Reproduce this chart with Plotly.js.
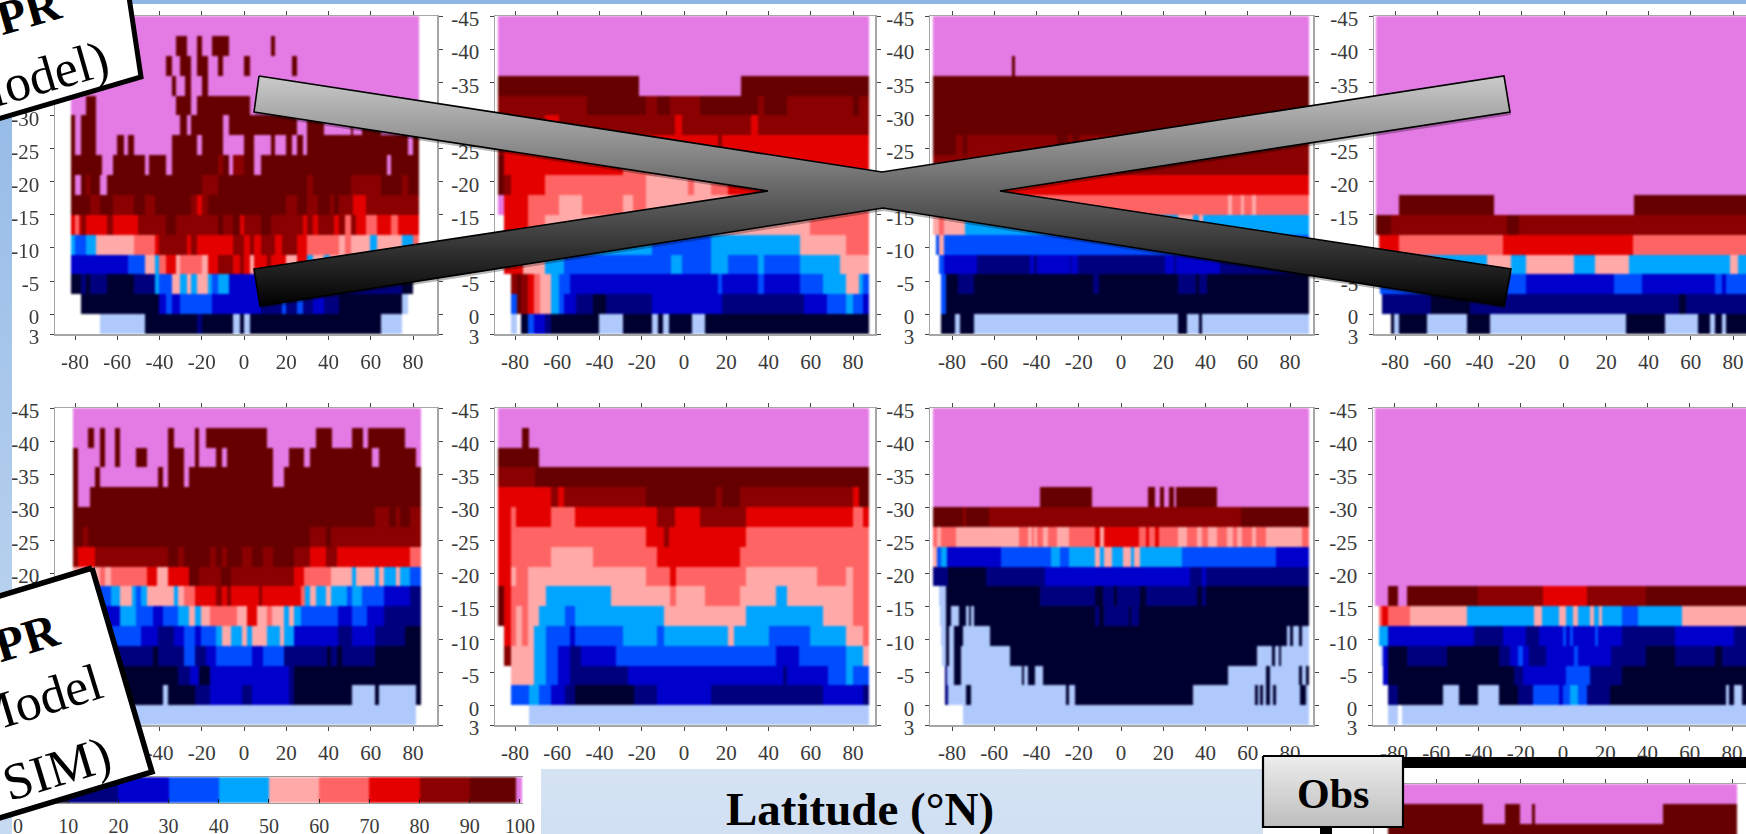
<!DOCTYPE html>
<html><head><meta charset="utf-8">
<script src="https://cdn.plot.ly/plotly-3.0.1.min.js"></script>
<style>
html,body{margin:0;padding:0;background:#fff;overflow:hidden}
#chart{width:1746px;height:834px}
.heatmaplayer{filter:blur(.9px)}
.xtick text,.ytick text{filter:blur(.55px)}
</style></head><body><div id="chart"></div>
<script>
// ---- level codes: 0 = no cloud, 1..10 = deciles (0-10 ... 90-100 %), 11 = 100 %
const Z=0,P=11,N=null;
const levelColors=['#B0C9FC','#000030','#00007F','#0000CC','#004CFF','#00A5FF','#FFA9A9','#FF6464','#E50000','#8B0000','#660000','#E47AE4'];
const lonTicks=[-80,-60,-40,-20,0,20,40,60,80];
const lonLabels=['-80','-60','-40','-20','0','20','40','60','80'];
const hgtTicks=[-45,-40,-35,-30,-25,-20,-15,-10,-5,0,3];
const hgtLabels=['-45','-40','-35','-30','-25','-20','-15','-10','-5','0','3'];
const hgtEdges=[3,0,-3,-6,-9,-12,-15,-18,-21,-24,-27,-30,-33,-36,-39,-42,-45];
const barEdges=[0,10,20,30,40,50,60,70,80,90,99.2,100.4];
const barLevels=[1,2,3,4,5,6,7,8,9,10,11];
const barTicks=[0,10,20,30,40,50,60,70,80,90,100];

// Each row runs top (-45) to bottom (3): [lon, level, lon, level, ..., end lon]
const panel1=[
[-82,P,83],
[-82,P,-32,10,-27,P,-22,10,-20,P,-15,10,-7,P,13,10,15,P,83],
[-82,P,-37,10,-34,P,-30,10,-25,P,-22,10,-17,P,-12,10,-10,P,0,10,3,P,23,10,25,P,83],
[-82,P,-34,10,-32,P,-28,10,-25,P,-20,10,-17,P,83],
[-82,P,-75,10,-70,P,-32,10,-25,P,-22,10,3,P,83],
[-82,10,-80,P,-77,10,-70,P,-30,10,-27,P,-25,10,-10,P,-7,10,25,P,30,10,38,P,51,10,52,P,56,10,65,P,75,10,83],
[-82,10,-80,P,-77,10,-70,P,-60,10,-57,P,-55,10,-52,P,-34,10,-22,P,-20,10,-10,P,0,10,5,P,13,10,15,P,20,10,23,P,25,10,28,P,30,10,78,P,80,10,83],
[-82,10,-67,P,-62,10,-47,P,-45,10,-37,P,-34,10,-12,9,-10,10,-7,P,-5,9,0,10,5,P,8,10,68,P,70,10,83],
[-82,10,-80,P,-77,10,-75,9,-73,10,-68,P,-65,10,-20,9,-12,10,30,9,33,10,51,9,65,10,75,9,78,10,83],
[-82,10,-73,9,-68,10,-62,9,-52,10,-47,9,-42,10,-25,9,-22,8,-20,9,-17,10,20,9,25,10,30,9,35,10,41,9,43,10,45,9,52,8,58,9,83],
[-82,8,-80,7,-78,8,-77,9,-75,8,-65,9,-62,8,-50,9,-37,10,-32,9,-12,10,-10,9,-5,10,-2,8,0,9,8,10,13,9,28,8,30,9,33,8,35,9,43,8,45,9,48,7,51,9,53,8,58,7,63,8,70,7,73,8,83],
[-82,5,-80,4,-75,5,-70,6,-52,7,-42,8,-40,9,-27,8,-25,9,-22,8,-5,9,0,8,3,9,5,8,8,9,15,8,18,9,25,8,30,7,45,6,48,7,51,6,60,5,63,6,75,5,80,7,83],
[-82,3,-55,4,-47,6,-42,5,-40,7,-37,8,-32,6,-30,7,-20,6,-17,8,-12,9,-5,8,-2,9,0,8,3,6,5,8,11,9,13,8,20,6,25,8,30,5,33,6,38,5,41,6,83],
[-82,1,-77,2,-75,1,-73,2,-65,1,-52,2,-42,5,-40,4,-34,6,-30,5,-27,6,-25,5,-22,6,-17,5,-15,4,-12,5,-7,3,30,2,75,1,80],
[-77,1,-40,3,-37,4,-34,3,-30,4,-15,3,8,2,18,4,20,2,25,4,28,2,33,3,38,2,45,1,75,Z,78],
[-68,Z,-47,1,-22,2,-20,1,-5,Z,-2,1,0,Z,3,1,65,Z,75]
];
const panel2=[
[-88,P,88],[-88,P,88],[-88,P,88],
[-88,10,-21,P,27,10,88],
[-88,9,-46,10,-18,9,-12.5,10,-6.5,9,7.5,10,35,9,38,10,49,9,80,10,83,9,88],
[-88,9,-66,8,-59,9,-4,8,-1,9,32,8,35,9,88],
[-88,9,-85,8,16,9,18,8,88],
[-88,10,-85,8,-29,7,30,8,88],
[-88,10,-85,9,-82,8,-66,7,-18,6,2,7,5,6,13,7,21,8,88],
[-88,P,-85,8,-74,7,-59,6,-48,7,-29,6,-24,7,-18,6,60,7,88],
[-88,N,-85,8,-74,7,-66,6,60,7,88],
[-88,N,-85,8,-74,7,-66,6,-55,5,-15,4,13,5,55,6,77,7,88],
[-88,N,-85,8,-76,6,-66,5,-57,4,-6,5,-1,4,13,5,21,4,35,5,38,4,55,5,74,6,88],
[-88,N,-82,9,-79,10,-77,9,-74,8,-71,7,-68,6,-63,5,-59,4,-54,3,16,4,18,3,35,4,38,3,55,4,66,5,77,6,83,5,85,4,88],
[-88,N,-82,4,-79,10,-77,9,-74,8,-71,7,-68,6,-63,5,-59,4,-57,3,-51,2,-43,1,-37,2,-15,3,18,2,57,3,68,4,77,5,80,4,85,3,88],
[-88,N,-82,Z,-79,N,-77,1,-74,4,-71,3,-66,2,-63,1,-40,Z,-29,1,-15,Z,-12,1,-10,Z,-7,1,4,Z,10,1,88]
];
const panel3=[
[-89,P,89],[-89,P,89],
[-89,P,-51.5,10,-50,P,89],
[-89,10,89],[-89,10,89],[-89,10,89],
[-89,10,-78,9,-75,10,-73,9,-30,10,-25,9,-23,10,-20,9,89],
[-89,9,89],
[-89,8,89],
[-89,7,51,6,52.5,7,57,6,58.5,7,62,6,64,7,89],
[-89,6,-86,7,-84,6,-74,5,27,6,34,5,37,6,39,5,89],
[-89,N,-87.5,4,-86,6,-84,4,89],
[-89,N,-86,4,-84,3,-68,2,-43,3,-41,2,-39.5,3,-24,2,-23.5,3,-20.5,2,21,3,25,2,26,3,47,2,89],
[-89,N,-85,4,-83,1,-77,2,-69.5,1,-13,2,-10.5,1,27,2,35.5,1,37,2,41,1,89],
[-89,N,-85,4,-83,1,89],
[-85,1,-78.5,Z,-76,1,-69.5,Z,27,1,31.5,Z,37,1,38.5,Z,89]
];
const panel4=[
[-89,P,89],[-89,P,89],[-89,P,89],[-89,P,89],[-89,P,89],[-89,P,89],[-89,P,89],[-89,P,89],[-89,P,89],
[-89,P,-78,10,-33,P,33.5,10,89],
[-89,10,-82,9,-27,10,-21,9,89],
[-89,N,-87.5,8,-78,7,-29,8,33,7,89],
[-87,5,-36.5,6,-25,5,-18,6,5,5,15,6,31,5,79,6,82.5,5,89],
[-87,4,-18,3,24,4,37,3,71.5,4,75,3,77,4,89],
[-86,2,-63,1,-44.5,2,54.5,1,58,2,89],
[-82,1,-80.5,Z,-78,1,-65,Z,-46,1,-35,Z,29.5,1,48,Z,63.5,1,69.5,Z,71.5,1,75,Z,77,1,89]
];
const panel5=[
[-81,P,84],
[-81,P,-74,10,-71,P,-68,10,-66,P,-61,10,-58.5,P,-36,10,-33,P,-23,10,-21,P,-18,10,11,P,34,10,42,P,51.5,10,56.5,P,59,10,76.5,P,84],
[-81,10,-78.5,P,-68,10,-66,P,-61,10,-58.5,P,-51,10,-46,P,-36,10,-28.5,P,-23,10,-21,P,-13,10,-10.5,P,-8,10,14,P,21.5,10,28.5,P,31.5,10,61,P,64,10,81.5,P,84],
[-81,10,-78.5,P,-70.5,10,-68,P,-40.5,10,-38.5,P,-36,10,-28.5,P,-26,10,14,P,19,10,84],
[-81,10,-78.5,P,-73,10,84],
[-81,10,62,9,69,10,72,9,74,10,79,9,84],
[-81,10,-76,9,-74,10,31.5,9,39,10,41.5,9,84],
[-81,9,-78.5,8,-70.5,9,-36,10,-31,9,-28.5,10,-16,9,-13,10,-10.5,9,-8,10,-1,9,4,10,9,9,14,10,24,9,31.5,8,39,9,44,8,79,7,84],
[-81,6,-68,7,-66,6,-63,7,-46,8,-41,6,-36,8,-26,10,-21,9,-11,10,-6,9,24,8,28.5,7,41.5,6,51.5,5,53,6,62,5,64,6,66.5,5,72,6,74,5,79,4,84],
[-81,4,-63,5,-58.5,6,-53,5,-51,4,-48.5,5,-46,6,-33,5,-31,6,-28.5,7,-23,8,-13,9,-10.5,8,-8,9,-6,8,7,9,8.5,8,27,7,29,5,31.5,6,34,5,39,6,41.5,5,49,4,51.5,5,56,4,66.5,3,79,2,84],
[-81,3,-58.5,5,-51,4,-43,3,-38.5,4,-31,5,-26,6,-23,5,-20.5,6,-16,7,-3,6,1.5,8,6.5,6,11,7,13.5,6,19,5,21.5,6,24,5,27,4,44.5,3,51.5,4,58.5,3,66.5,2,84],
[-81,4,-48.5,3,-40.5,2,-33,3,-28.5,4,-23,3,-20.5,4,-13,5,-10.5,6,-6,5,-1,6,1.5,5,4,6,11,5,17,6,19,5,24,3,44.5,2,51.5,3,62,2,76.5,1,84],
[-81,2,-43,1,-40.5,2,-28.5,4,-23,2,-18,3,-13,4,4,3,9,4,19,2,39.5,1,41.5,2,44,1,46.5,2,62,1,84],
[-81,1,-31,2,-25.5,3,-21,1,-16,3,21.5,2,24,1,84],
[-81,1,-38.5,Z,-36,1,-23,2,-16,3,-1,2,4,3,21.5,2,24,1,51.5,Z,62,1,64,Z,81.5,1,84],
[-81,Z,81.5]
];
const panel6=[
[-88,P,88],
[-88,P,-76.5,10,-73.5,P,88],
[-88,10,-68.5,P,88],
[-88,9,-70.5,10,88],
[-88,8,-63,9,-59.5,8,-57,9,-18,10,15.5,9,18,10,26.5,9,80,8,83,10,88],
[-88,8,-82,7,-79.5,8,-63,7,-51.5,8,-12.5,9,-4,8,7.5,9,29.5,8,80,7,85,8,88],
[-88,8,-82,7,-18,8,-9.5,9,-7,8,29.5,7,88],
[-88,8,-82,7,-63,6,-43,7,-12.5,8,26.5,7,88],
[-88,8,-82,6,-79.5,7,-74,6,-18,7,-6.5,8,-3.5,7,29.5,6,63,7,77,6,80,7,88],
[-88,10,-85,8,-82,7,-74,6,-65.5,5,-34.5,6,-6.5,7,-3.5,6,10,7,26.5,6,43.5,5,49,6,80,7,88],
[-88,10,-85,8,-82,7,-79.5,6,-76.5,7,-74,6,-68.5,5,-56.5,4,-51.5,5,-9.5,6,29.5,5,66,6,80,7,88],
[-88,N,-85,8,-82,7,-79.5,6,-76.5,7,-74,6,-71,5,-65.5,4,-54,3,-51.5,4,-29,5,-12.5,4,-9.5,5,21,6,24,5,40.5,4,60,5,77,6,85,7,88],
[-88,N,-85,9,-82,6,-71,5,-65.5,4,-59.5,3,-54,2,-48.5,3,-32,4,43.5,3,54.5,4,77,5,85,6,88],
[-88,N,-82,6,-71,5,-65.5,4,-59.5,3,-54,2,-26.5,3,47,2,49,3,68.5,4,77,5,80,4,88],
[-88,N,-82,4,-73.5,5,-68.5,4,-63,3,-56.5,2,-51.5,1,-23.5,2,-12.5,3,13,2,66,3,85,2,88],
[-88,N,-73.5,Z,88]
];
const panel7=[
[-89,P,89],[-89,P,89],[-89,P,89],[-89,P,89],
[-89,P,-38.5,10,-13.5,P,13,10,16,P,18.5,10,20.5,P,23,10,25,P,26,10,45.5,P,89],
[-89,10,-75,9,-73.5,10,-62.5,9,57,10,89],
[-89,7,-87,6,-85,7,-78,6,-48,7,-44,6,-42,7,-41,6,-39.5,7,-37,6,-34.5,7,-30,6,-24.5,7,-12,8,-10,6,-8,8,8.5,7,12,8,13.5,7,16,8,18,7,27,6,31.5,7,36,6,38.5,7,41.5,6,45.5,7,50.5,6,53,7,55,6,57.5,7,62,6,64,7,69,6,86,7,89],
[-89,6,-87,4,-85,5,-82.5,3,-57,4,-33,5,-29,4,-24.5,5,-12,6,-10,5,-8,6,-4,5,1,6,5,5,6.5,6,9,5,29,4,73.5,3,89],
[-89,2,-82,1,-64,2,-36,3,33,2,38.5,3,40.5,2,89],
[-89,N,-86,Z,-83,1,-38.5,2,-12,1,-8.5,2,-3,1,-2,2,9,1,12,2,36,1,38.5,2,40.5,1,89],
[-89,N,-85.5,Z,-83,1,-80.5,Z,-76.5,1,-73.5,Z,-72,1,-71,Z,-69.5,1,-12,2,-10.5,1,-8,2,4,1,5,2,8.5,1,89],
[-89,N,-85,Z,-83,1,-81.5,Z,-79,1,-75,Z,-62,1,79,Z,80,1,81.5,Z,84.5,1,86,Z,89],
[-89,N,-84.5,Z,-83,1,-81.5,Z,-79,1,-75.5,Z,-52.5,1,64.5,Z,71.5,1,73,Z,75,1,76,Z,89],
[-89,N,-83.5,2,-82.5,Z,-79,1,-75.5,Z,-47,1,-46,Z,-44,1,-40.5,Z,-37,1,51,Z,69,1,70.5,Z,84.5,1,86,Z,88,1,89],
[-89,N,-83.5,2,-82,Z,-73.5,1,-71,Z,-26,1,-24.5,Z,-21.5,1,34,Z,63.5,1,65,Z,66,1,67.5,Z,69,1,70.5,Z,72,1,73.5,Z,85,1,88,Z,89],
[-89,N,-75,Z,89]
];
const panel8=[
[-89,P,88],[-89,P,88],[-89,P,88],[-89,P,88],[-89,P,88],[-89,P,88],[-89,P,88],[-89,P,88],[-89,P,88],
[-89,P,-83,10,-78,P,-74,10,-40,9,-9.5,8,11.5,9,39.5,10,88],
[-89,N,-87,7,-85.5,8,-83,7,-72.5,6,-45.5,5,-13.5,6,-10,5,-2,6,1.5,5,5,6,7,5,13,6,15,5,17,6,18.5,5,28,4,35.5,5,56.5,6,88],
[-89,N,-87,5,-83,3,-42,2,-28.5,3,-17.5,2,-11.5,3,0,4,1.5,3,3.5,4,5,3,15.5,4,16.5,3,28,2,53,3,81,2,88],
[-89,N,-86,Z,-85,3,-83,1,-74,2,-55,1,-30,2,-25,3,-21,4,-19,3,-16,2,-8,3,5.5,4,7,3,23,2,39.5,1,53,2,72,1,75.5,2,88],
[-89,N,-85,3,-83,1,-23,2,-19,3,1.5,4,13,2,28,1,88],
[-89,N,-83,2,-78,1,-57,Z,-49,1,-40,Z,-30,1,-21,2,-14,4,-2,3,0,4,3.5,5,7,4,11.5,2,22.5,1,77.5,Z,79,1,81,Z,85,1,88],
[-89,N,-83,Z,-78,N,-76,Z,88]
];
// Observed panel: only its top rows are on the page
const panelObs=[
[-83,P,82.5],
[-83,10,-38,P,-27.5,10,-20.5,P,-14.5,10,-13,P,47.5,10,82.5],
[-83,10,82.5]
];

// ---- page geometry (pixels) ----
const W=1746,H=834,PXDEG=2.1125;
const topY=[16,334],botY=[408,725];
const slots=[
 {rows:panel1,l:55,r:437,z:244,y:topY,m:true},
 {rows:panel2,l:495,r:875,z:684,y:topY,m:true},
 {rows:panel3,l:930,r:1313,z:1121,y:topY,m:true},
 {rows:panel4,l:1374,r:1746,z:1564,y:topY,m:false},
 {rows:panel5,l:55,r:437,z:244,y:botY,m:true},
 {rows:panel6,l:495,r:875,z:684,y:botY,m:true},
 {rows:panel7,l:930,r:1313,z:1121,y:botY,m:true},
 {rows:panel8,l:1373,r:1746,z:1563,y:botY,m:false}
];
const lonEdges=[];for(let a=-90;a<=92;a+=.5)lonEdges.push(a);
function expand(rows){
  const grid=rows.slice().reverse().map(function(run){
    const out=[];
    for(let c=0;c<lonEdges.length-1;c++){
      const mid=lonEdges[c]+.25;let v=null;
      for(let i=0;i+2<run.length;i+=2){ if(mid>=run[i]&&mid<run[i+2]){v=run[i+1];break;} }
      out.push(v);
    }
    return out;
  });
  return grid;
}
const disc=[];levelColors.forEach(function(c,i){disc.push([i/12,c]);disc.push([(i+1)/12,c]);});
const FONT='"Liberation Serif","Times New Roman",serif';
const data=[],layout={width:W,height:H,margin:{l:0,r:0,t:0,b:0},paper_bgcolor:'#fff',plot_bgcolor:'rgba(0,0,0,0)',showlegend:false,hovermode:false,annotations:[]};
function axes(n,ax,ay){layout['xaxis'+(n===1?'':n)]=ax;layout['yaxis'+(n===1?'':n)]=ay;}
function heat(n,z,x,y){data.push({type:'heatmap',x:x,y:y,z:z,xaxis:'x'+(n===1?'':n),yaxis:'y'+(n===1?'':n),zmin:-.5,zmax:11.5,colorscale:disc,showscale:false,hoverinfo:'skip',zsmooth:false});}
const lineCol='#a6a6a6',tickCol='#444';
function panelAxes(n,s,yr,domTop,domBot,labels){
  const a=n===1?'':n;
  axes(n,{domain:[s.l/W,s.r/W],range:[(s.l-s.z)/PXDEG,(s.r-s.z)/PXDEG],anchor:'y'+a,showgrid:false,zeroline:false,showline:true,linecolor:lineCol,linewidth:1.5,mirror:'ticks',ticks:'outside',ticklen:4,tickwidth:1,tickcolor:tickCol,tickmode:'array',tickvals:lonTicks,ticktext:labels?lonLabels:lonLabels.map(function(){return '';}),ticklabelstandoff:4,tickfont:{family:FONT,size:21,color:'#3a3a3a'},fixedrange:true},
   {domain:[1-domBot/H,1-domTop/H],range:yr,anchor:'x'+a,showgrid:false,zeroline:false,showline:true,linecolor:lineCol,linewidth:1.5,mirror:s.m?'ticks':false,ticks:'outside',ticklen:4,tickwidth:1,tickcolor:tickCol,tickmode:'array',tickvals:hgtTicks,ticktext:hgtLabels,ticklabelstandoff:6,ticklabelshift:-3,tickfont:{family:FONT,size:21,color:'#3a3a3a'},fixedrange:true});
}
slots.forEach(function(s,i){
  const n=i+1;
  heat(n,expand(s.rows),lonEdges,hgtEdges);
  panelAxes(n,s,[3,-45],s.y[0],s.y[1],true);
});
// Obs panel (cut off by the page bottom)
const obsRows=panelObs;
const obsSlot={l:1374,r:1746,z:1563,m:false};
heat(9,expand(obsRows),lonEdges,hgtEdges.slice(-4));
panelAxes(9,obsSlot,[-45+(H-784)/6.62,-45],784,H,false);
layout.yaxis9.range=[-45+(H-784)/6.62,-45];
layout.yaxis9.showticklabels=false;
layout.xaxis9.showticklabels=false;
layout.xaxis9.side='top';
// colour bar
heat(10,[barLevels],barEdges,[0,1]);
axes(10,{domain:[18/W,523/W],range:[0,100.6],anchor:'y10',showgrid:false,zeroline:false,showline:true,linecolor:'#999',linewidth:1,mirror:true,ticks:'inside',ticklen:4,tickwidth:1,tickcolor:'#222',tickmode:'array',tickvals:barTicks,ticktext:barTicks.map(String),ticklabelstandoff:5,tickfont:{family:FONT,size:20,color:'#3a3a3a'},fixedrange:true},
 {domain:[1-803/H,1-777/H],range:[0,1],anchor:'x10',visible:false,fixedrange:true});

// ---- decoration overlay, in page pixels ----
axes(11,{domain:[0,1],range:[0,W],anchor:'y11',visible:false,fixedrange:true},{domain:[0,1],range:[H,0],anchor:'x11',visible:false,fixedrange:true});
function poly(pts,o){
  data.push(Object.assign({type:'scatter',mode:'lines',x:pts.map(function(p){return p[0];}).concat(pts[0][0]),y:pts.map(function(p){return p[1];}).concat(pts[0][1]),xaxis:'x11',yaxis:'y11',fill:'toself',hoverinfo:'skip',line:{width:0,color:'rgba(0,0,0,0)'}},o));
}
function grad(a,b){return {type:'vertical',colorscale:[[0,a],[1,b]]};}
// page furniture
poly([[0,0],[12,0],[12,834],[0,834]],{fillgradient:grad('#C6DAF1','#8FB7E6')});
poly([[0,0],[1746,0],[1746,4],[0,4]],{fillcolor:'#8DB6E6'});
poly([[541,769],[1263,769],[1263,834],[541,834]],{fillgradient:grad('#D0DFF2','#D5E3F4')});
// heavy bar and rule around the Obs panel
poly([[1403,757],[1746,757],[1746,768],[1403,768]],{fillcolor:'#000'});
poly([[1320,827],[1332,827],[1332,834],[1320,834]],{fillcolor:'#000'});
// crossed-out X
const cross=[[259,76],[882,172],[1504,76],[1510,112],[1000,191],[1511,269],[1504,306],[883,208],[260,306],[254,269],[768,191],[254,112]];
poly(cross.map(function(p){return [p[0]+1,p[1]+3];}),{fillcolor:'rgba(0,0,0,.28)'});
poly(cross,{fillgradient:grad('#000000','#CACACA'),line:{width:1.6,color:'#000'}});
// tilted label boxes
poly([[-73,-8],[120,-63],[141,77],[-33,128]],{fillcolor:'#fff',line:{width:5,color:'#000'}});
poly([[92,568],[152,772],[-50,833],[-110,629]],{fillcolor:'#fff',line:{width:5.5,color:'#000'}});
// Obs button
poly([[1263,756],[1403,756],[1403,827],[1263,827]],{fillgradient:grad('#BDBDBD','#EDEDED'),line:{width:2.2,color:'#000'}});
function note(text,x,y,size,bold,ang){layout.annotations.push({text:bold?'<b>'+text+'</b>':text,x:x,y:y,xref:'x11',yref:'y11',showarrow:false,xanchor:'center',yanchor:'middle',textangle:ang||0,font:{family:FONT,size:size,color:'#000'}});}
note('PR',28,10,48,true,-16);
note('(Model)',25,81,52,false,-16);
note('PR',26,637,48,true,-17);
note('(Model',27,703,52,false,-17);
note('SIM)',57,769,52,false,-17);
note('Latitude (°N)',860,809,47,true);
note('Obs',1333,794,42,true);
Plotly.newPlot('chart',data,layout,{displayModeBar:false,staticPlot:true});
</script></body></html>
